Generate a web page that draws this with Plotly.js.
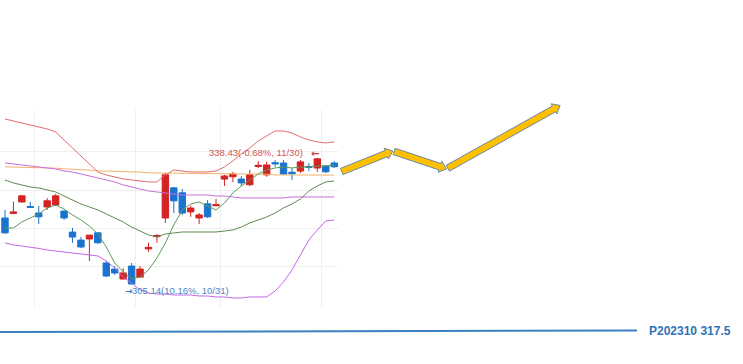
<!DOCTYPE html>
<html><head><meta charset="utf-8">
<script src="https://cdn.plot.ly/plotly-3.0.1.min.js"></script>
<style>html,body{margin:0;padding:0;background:#fff;overflow:hidden}#chart{width:743px;height:364px;}</style>
</head><body><div id="chart"></div><script>
// ---- data ----
const dates = ['2023-10-10','2023-10-11','2023-10-12','2023-10-13','2023-10-16','2023-10-17','2023-10-18','2023-10-19','2023-10-20','2023-10-23',
  '2023-10-24','2023-10-25','2023-10-26','2023-10-27','2023-10-30','2023-10-31','2023-11-01','2023-11-02','2023-11-03','2023-11-06',
  '2023-11-07','2023-11-08','2023-11-09','2023-11-10','2023-11-13','2023-11-14','2023-11-15','2023-11-16','2023-11-17','2023-11-20',
  '2023-11-21','2023-11-22','2023-11-23','2023-11-24','2023-11-27','2023-11-28','2023-11-29','2023-11-30','2023-12-01','2023-12-04'];
const openP  = [322.70,323.90,326.90,325.70,324.00,325.60,326.10,324.50,319.00,316.90,
  317.20,318.80,310.90,309.30,306.70,310.10,307.20,314.60,317.80,322.70,
  330.60,329.30,324.30,322.70,326.40,325.90,332.90,333.50,332.90,331.40,
  336.20,334.00,337.20,337.10,334.70,335.00,336.20,335.80,336.30,337.10];
const highP  = [324.80,327.00,328.60,326.90,325.90,327.90,329.00,324.80,320.10,317.70,
  318.30,319.00,311.40,310.10,309.60,310.90,310.10,316.20,318.50,334.50,
  330.80,330.30,325.90,324.00,327.40,327.70,334.00,334.80,333.70,335.30,
  337.60,337.40,337.90,337.90,335.80,337.90,337.10,338.43,336.60,337.60];
const lowP   = [318.60,323.70,326.80,325.30,321.10,324.80,325.90,322.20,316.20,314.80,
  311.40,315.90,307.20,307.80,306.60,305.14,307.10,313.80,316.20,321.40,
  324.00,323.50,323.00,321.10,322.70,325.80,331.10,332.10,331.10,331.10,
  335.80,333.50,336.10,334.00,332.70,334.50,335.00,334.80,334.50,335.80];
const closeP = [318.80,324.30,328.50,325.50,323.00,327.20,328.50,322.70,317.70,315.10,
  318.20,316.20,307.50,308.30,308.30,305.40,309.30,315.00,318.10,334.00,
  327.20,324.00,325.30,323.50,323.00,326.20,333.70,334.20,331.90,334.00,
  336.50,336.60,336.90,334.20,334.30,337.40,336.00,338.20,334.80,336.13];
const upperBand = [348.65,348.13,347.60,347.08,346.56,346.03,345.25,343.15,341.05,338.69,
  336.60,334.76,333.97,333.45,332.93,332.66,332.40,332.14,332.14,333.97,
  335.28,335.02,334.76,334.76,334.76,335.02,336.07,337.64,339.48,341.05,
  342.89,344.20,345.51,345.51,344.98,343.93,343.15,342.63,342.37,342.63];
const midBand = [332.66,331.88,331.35,330.83,330.57,330.04,329.52,328.47,327.42,326.37,
  325.59,324.80,323.75,322.70,321.65,320.34,319.29,318.25,317.72,318.51,
  318.77,319.03,319.03,319.03,319.03,319.03,319.29,319.56,320.34,321.39,
  322.18,322.96,324.01,325.32,326.37,327.68,329.78,331.09,332.14,332.40];
const lowerBand = [316.15,315.62,315.36,315.10,314.71,314.31,314.05,313.79,313.53,313.27,
  313.00,312.74,311.43,309.60,307.24,305.67,303.83,303.04,302.78,302.78,
  302.52,302.52,302.52,302.26,302.26,302.00,302.00,301.73,301.73,302.00,
  302.00,302.00,303.57,305.93,309.07,313.00,316.94,319.56,321.91,322.18];
const ma5 = [320.08,320.08,321.65,322.70,323.75,325.32,326.11,325.06,323.49,322.18,
  320.60,318.51,315.10,310.91,308.55,306.71,307.24,309.07,312.22,316.15,
  320.87,324.80,326.37,326.90,325.85,324.80,326.63,329.26,331.09,332.66,
  334.24,335.28,335.81,336.07,335.81,336.07,336.07,336.33,336.33,336.60];
const maPurple = [337.12,336.86,336.60,336.33,336.07,335.81,335.55,335.02,334.76,334.24,
  333.71,333.19,332.66,332.14,331.35,330.83,330.30,329.78,329.52,329.26,
  329.00,328.73,328.73,328.73,328.73,328.47,328.47,328.21,327.95,327.95,
  327.95,327.95,327.95,327.95,328.21,328.21,328.21,328.21,328.21,328.21];
const maOrange = [336.10,336.07,336.02,335.98,335.85,335.81,335.76,335.58,335.52,335.30,
  335.26,335.05,335.02,334.98,334.80,334.76,334.72,334.52,334.50,334.48,
  334.46,334.44,334.40,334.26,334.24,334.24,334.22,334.22,334.20,334.20,
  334.18,334.16,334.00,333.98,333.97,333.97,333.96,333.95,333.95,333.94];
const highLabel = '338.43(-0.68%, 11/30)';
const lowLabel = '305.14(10.16%, 10/31)';
const yGridVals = [310, 320, 330, 340];
// hand-drawn forecast arrow waypoints (index, price)
const forecastIdx = [39.89, 45.94, 52.31, 65.76];
const forecastPrice = [334.89, 340.26, 335.55, 352.19];
const contractName = 'P202310';
const contractValue = 317.5;

// ---- geometry ----
const W = 743, H = 364;
const M = {l: 0, r: 405, t: 110, b: 57};
const plotW = W - M.l - M.r, plotH = H - M.t - M.b;
const xR = [-0.59, 39.45], yR = [299.37, 351.0];
const idx = dates.map((d, i) => i);

// gridlines at half-month boundaries
const gridPos = [];
for (let i = 1; i < dates.length; i++) {
  const d0 = +dates[i-1].slice(8), d1 = +dates[i].slice(8);
  const m0 = dates[i-1].slice(5,7), m1 = dates[i].slice(5,7);
  if (m0 !== m1 || (d0 < 15 && d1 >= 15)) gridPos.push(i - 0.5);
}

function toPx(x, y) {
  return [M.l + (x - xR[0]) / (xR[1] - xR[0]) * plotW, M.t + (1 - (y - yR[0]) / (yR[1] - yR[0])) * plotH];
}
function toPaper(px, py) {
  return [(px - M.l) / plotW, 1 - (py - M.t) / plotH];
}
function arrowPath(p0, p1) {
  const dx = p1[0]-p0[0], dy = p1[1]-p0[1], L = Math.hypot(dx, dy);
  const ux = dx/L, uy = dy/L, nx = -uy, ny = ux;
  const w = 3.3, hw = 5.8, hl = 7;
  const bx = p1[0]-ux*hl, by = p1[1]-uy*hl;
  const pts = [
    [p0[0]+nx*w, p0[1]+ny*w], [bx+nx*w, by+ny*w], [bx+nx*hw, by+ny*hw], [p1[0], p1[1]],
    [bx-nx*hw, by-ny*hw], [bx-nx*w, by-ny*w], [p0[0]-nx*w, p0[1]-ny*w]
  ].map(p => toPaper(p[0], p[1]));
  return 'M' + pts.map(p => p[0].toFixed(5) + ',' + p[1].toFixed(5)).join('L') + 'Z';
}

const shapes = [];
for (let k = 0; k < forecastIdx.length - 1; k++) {
  let a = toPx(forecastIdx[k], forecastPrice[k]);
  const b = toPx(forecastIdx[k+1], forecastPrice[k+1]);
  if (k > 0) { const L = Math.hypot(b[0]-a[0], b[1]-a[1]); a = [a[0] + (b[0]-a[0])/L*1.5, a[1] + (b[1]-a[1])/L*1.5]; }
  shapes.push({type: 'path', xref: 'paper', yref: 'paper', path: arrowPath(a, b),
    fillcolor: '#FFC000', line: {color: '#6a89a5', width: 1}, layer: 'above'});
}
// bottom contract line
const lp0 = toPaper(0, 332), lp1 = toPaper(637, 330.5);
shapes.push({type: 'line', xref: 'paper', yref: 'paper', x0: lp0[0], y0: lp0[1], x1: lp1[0], y1: lp1[1],
  line: {color: '#3d7fc1', width: 2}});

function lineTrace(y, color) {
  return {x: idx, y: y, type: 'scatter', mode: 'lines', line: {color: color, width: 1}, hoverinfo: 'skip', showlegend: false};
}
const traces = [
  lineTrace(maOrange, '#f2b26a'),
  lineTrace(maPurple, '#c76fdc'),
  lineTrace(upperBand, '#e46c6c'),
  lineTrace(midBand, '#5f8a52'),
  lineTrace(lowerBand, '#c466e6'),
  lineTrace(ma5, '#5c9a58'),
  {x: idx, open: openP, high: highP, low: lowP, close: closeP, type: 'candlestick', text: dates,
   increasing: {line: {color: '#d42323', width: 1}, fillcolor: '#d42323'},
   decreasing: {line: {color: '#1b73d0', width: 1}, fillcolor: '#1b73d0'},
   whiskerwidth: 0, showlegend: false, hoverinfo: 'skip'}
];

const hiI = highP.indexOf(Math.max(...highP));
const loI = lowP.indexOf(Math.min(...lowP));
const cp = toPaper(647, 331);
const annotations = [
  {x: hiI, y: highP[hiI], xref: 'x', yref: 'y', text: highLabel, showarrow: false, xanchor: 'right', yanchor: 'middle',
   xshift: -12, yshift: 5, font: {family: 'Liberation Sans, Arial, sans-serif', size: 9.5, color: '#d35555'}},
  {x: hiI, y: highP[hiI], xref: 'x', yref: 'y', text: '<b>←</b>', showarrow: false, xanchor: 'center', yanchor: 'middle',
   xshift: -2, yshift: 4, font: {family: 'DejaVu Sans, sans-serif', size: 10, color: '#d33a3a'}},
  {x: loI, y: lowP[loI], xref: 'x', yref: 'y', text: '<b>→</b>', showarrow: false, xanchor: 'left', yanchor: 'middle',
   xshift: -9, yshift: -6, font: {family: 'DejaVu Sans, sans-serif', size: 9, color: '#3f7fc6'}},
  {x: loI, y: lowP[loI], xref: 'x', yref: 'y', text: lowLabel, showarrow: false, xanchor: 'left', yanchor: 'middle',
   xshift: -2, yshift: -6, font: {family: 'Liberation Sans, Arial, sans-serif', size: 9.5, color: '#4a86c8'}},
  {x: cp[0], y: cp[1], xref: 'paper', yref: 'paper', text: '<b>' + contractName + ' ' + contractValue + '</b>', showarrow: false,
   xanchor: 'left', yanchor: 'middle', font: {family: 'Liberation Sans, Arial, sans-serif', size: 12, color: '#2f73b8'}}
];

const layout = {
  width: W, height: H, margin: M, paper_bgcolor: '#ffffff', plot_bgcolor: '#ffffff',
  showlegend: false, hovermode: false, boxgap: 0.2, boxgroupgap: 0.05,
  xaxis: {range: xR, tickvals: gridPos, showticklabels: false, ticks: '', showgrid: true, gridcolor: '#efefef', gridwidth: 1,
          zeroline: false, showline: false, rangeslider: {visible: false}, fixedrange: true},
  yaxis: {range: yR, tickvals: yGridVals, showticklabels: false, ticks: '', showgrid: true, gridcolor: '#efefef', gridwidth: 1,
          zeroline: false, showline: false, fixedrange: true},
  shapes: shapes, annotations: annotations
};
Plotly.newPlot('chart', traces, layout, {displayModeBar: false, staticPlot: true});
</script></body></html>
